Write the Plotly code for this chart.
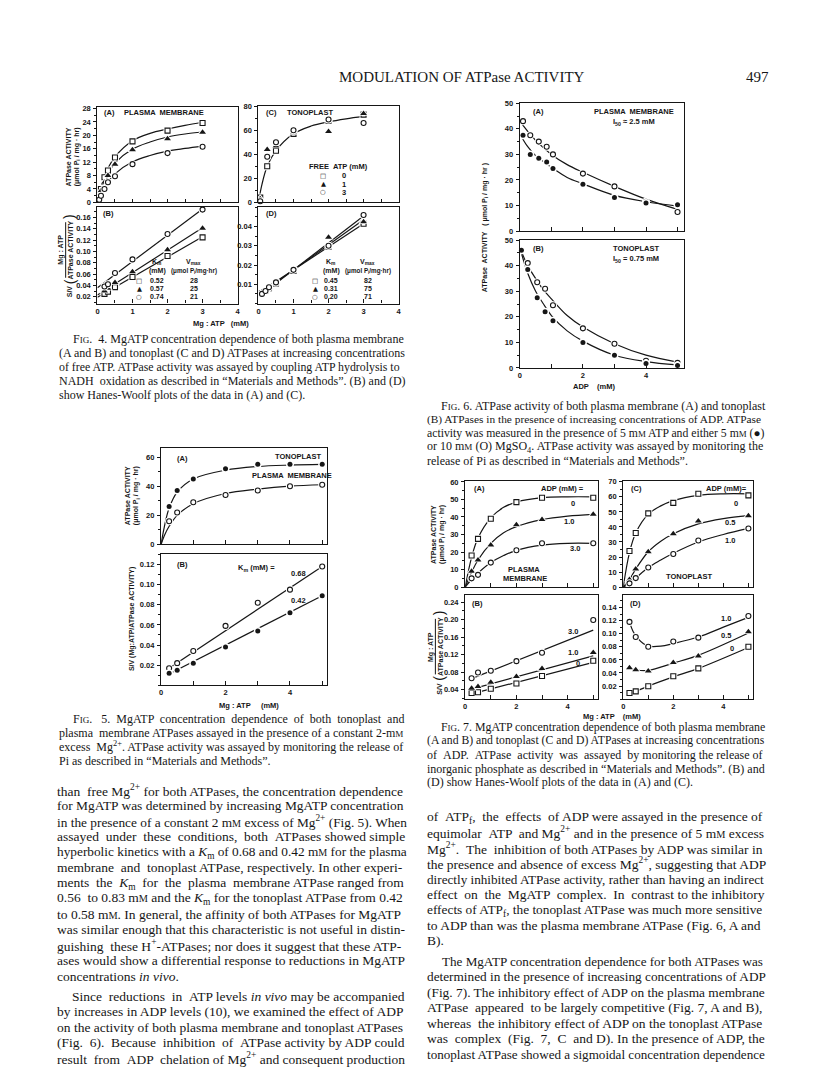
import plotly.graph_objects as go

# ---------------- values ----------------
# Fig. 4 (A) plasma membrane rate vs MgATP, free ATP 0 (sq), 1 (tr), 3 (ci) mM
f4a_x = [0.05, 0.1, 0.2, 0.3, 0.5, 1, 2, 3]
f4a_sq = [1.5, 4, 7.5, 9.5, 13.4, 18.2, 21.4, 23.7]
f4a_tr = [1, 3.5, 6, 8, 11.4, 15.7, 19, 20.9]
f4a_ci = [0.8, 2, 4, 6, 7.8, 11.4, 14.7, 16.6]
f4a_fit_x = [0, 0.1, 0.2, 0.3, 0.5, 1, 1.5, 2, 2.5, 3]
f4a_sq_fit = [0, 4.5, 7.8, 10.2, 13.6, 18.4, 20.6, 21.9, 23, 23.9]
f4a_tr_fit = [0, 3.7, 6.5, 8.6, 11.7, 15.9, 18, 19.5, 20.4, 21]
f4a_ci_fit = [0, 2.5, 4.5, 6.1, 8.5, 12.1, 14, 15.3, 16.1, 16.8]

# Fig. 4 (B) Hanes-Woolf, plasma membrane
f4b_x = [0.2, 0.3, 0.5, 1, 2, 3]
f4b_sq = [0.025, 0.029, 0.037, 0.055, 0.092, 0.125]
f4b_tr = [0.03, 0.035, 0.045, 0.064, 0.103, 0.141]
f4b_ci = [0.038, 0.042, 0.062, 0.086, 0.131, 0.174]
f4b_line_x = [0, 3]
f4b_sq_line = [0.019, 0.126]
f4b_tr_line = [0.023, 0.142]
f4b_ci_line = [0.036, 0.175]
f4b_km = ["0.52", "0.57", "0.74"]
f4b_vmax = ["28", "25", "21"]

# Fig. 4 (C) tonoplast
f4c_x = [0.05, 0.25, 0.5, 1, 2, 3]
f4c_sq = [4, 30, 43, 57, 68, 73]
f4c_tr = [3, 44, 47, 58, 59, 74]
f4c_ci = [1, 38, 50, 60, 69, 66]
f4c_fit_x = [0, 0.1, 0.25, 0.5, 1, 1.5, 2, 2.5, 3]
f4c_fit = [0, 15, 30, 43, 57, 63.5, 67, 69.5, 71.5]
free_atp = ["0", "1", "3"]

# Fig. 4 (D) Hanes-Woolf, tonoplast
f4d_x = [0.1, 0.2, 0.3, 0.5, 1, 2, 3]
f4d_sq = [0.0055, 0.0065, 0.008, 0.0105, 0.017, 0.0295, 0.0415]
f4d_tr = [0.006, 0.007, 0.0085, 0.011, 0.0175, 0.0345, 0.0425]
f4d_ci = [0.005, 0.0065, 0.0085, 0.011, 0.0175, 0.030, 0.046]
f4d_line_x = [0, 3]
f4d_sq_line = [0.0055, 0.0415]
f4d_tr_line = [0.0045, 0.0435]
f4d_ci_line = [0.0035, 0.0455]
f4d_km = ["0.45", "0.31", "0.20"]
f4d_vmax = ["82", "75", "71"]

# Fig. 5 tonoplast (filled) and plasma membrane (open), 2 mM excess Mg
f5_x = [0.25, 0.5, 1, 2, 3, 4, 5]
f5a_tono = [26, 37, 45, 52, 55, 55, 55]
f5a_pm = [16, 22, 29, 34, 37, 40, 41]
f5a_fit_x = [0, 0.1, 0.25, 0.5, 1, 2, 3, 4, 5]
f5a_tono_fit = [0, 12, 25, 36, 45, 51, 53.5, 54.5, 55]
f5a_pm_fit = [0, 6, 12.5, 20, 28, 35, 38, 40, 41]
f5b_pm = [0.017, 0.022, 0.034, 0.059, 0.082, 0.095, 0.118]
f5b_tono = [0.012, 0.015, 0.022, 0.038, 0.054, 0.072, 0.089]
f5b_line_x = [0.2, 5]
f5b_pm_line = [0.016, 0.118]
f5b_tono_line = [0.0105, 0.089]

# Fig. 6 ADP inhibition, 10 mM Mg (open) and 5 mM Mg (filled)
f6a_x = [0.1, 0.33, 0.6, 0.85, 1.05, 2, 3, 4, 5]
f6a_open = [43, 37.5, 35, 33, 30, 22.5, 17.5, 11.5, 7.5]
f6a_fill = [37.5, 30, 28.5, 27, 24.5, 18.3, 13.2, 11, 10.3]
f6a_fit_x = [0, 0.25, 0.5, 1, 1.5, 2, 3, 4, 5]
f6a_open_fit = [43, 39, 35.5, 30, 26, 23, 17.5, 12.5, 8.5]
f6a_fill_fit = [38, 33, 29.5, 25, 21, 18.5, 14, 11.5, 9.8]
f6b_x = [0.05, 0.25, 0.55, 0.8, 1.05, 2, 3, 4, 5]
f6b_open = [46, 41, 33.5, 31, 24.5, 15.5, 9.5, 2.8, 2]
f6b_fill = [46, 38.5, 27.5, 22, 18.5, 10, 5, 1.8, 1]
f6b_fit_x = [0, 0.25, 0.5, 0.75, 1, 1.5, 2, 3, 4, 5]
f6b_open_fit = [47, 40, 35, 30.5, 27, 20.5, 16, 9.5, 5, 2.3]
f6b_fill_fit = [47, 37, 30, 25, 20.5, 14.5, 10.5, 5, 2.5, 1.2]

# Fig. 7 MgATP dependence with ADP
f7_x = [0.25, 0.5, 1, 2, 3, 5]
f7_fit_x = [0, 0.25, 0.5, 1, 1.5, 2, 3, 4, 5]
f7a_sq = [18, 27.5, 39, 48.5, 51, 51]
f7a_tr = [9, 15.5, 24, 35.5, 38.5, 41.5]
f7a_ci = [5, 7, 14, 21, 25, 25]
f7a_sq_fit = [0, 17, 28, 39.5, 45.5, 48.5, 51, 51.5, 51.5]
f7a_tr_fit = [0, 8.5, 15.5, 25, 31, 34.5, 38.5, 40.5, 41.5]
f7a_ci_fit = [0, 4.5, 8, 14, 18, 21, 24, 25, 25]
f7c_sq = [24, 36, 49, 56, 62, 61]
f7c_tr = [5, 12, 23.5, 35.5, 44, 47.5]
f7c_ci = [2.5, 6, 13, 22, 31, 39]
f7c_sq_fit = [0, 23, 36, 48.5, 54, 57.5, 61, 62, 62]
f7c_tr_fit = [0, 5, 12, 23.5, 30.5, 35.5, 42, 45.5, 47.5]
f7c_ci_fit = [0, 2.5, 6, 13, 18, 22.5, 30, 35, 39]
f7b_sq = [0.032, 0.034, 0.042, 0.054, 0.071, 0.106]
f7b_tr = [0.043, 0.047, 0.057, 0.07, 0.088, 0.125]
f7b_ci = [0.066, 0.079, 0.083, 0.105, 0.124, 0.199]
f7b_line_x = [0.25, 5]
f7b_sq_line = [0.03, 0.102]
f7b_tr_line = [0.041, 0.117]
f7b_ci_line = [0.065, 0.176]
f7d_sq = [0.0095, 0.012, 0.0197, 0.035, 0.047, 0.08]
f7d_tr = [0.048, 0.045, 0.043, 0.056, 0.066, 0.103]
f7d_ci = [0.118, 0.095, 0.08, 0.088, 0.094, 0.127]
f7d_ci_fit_x = [0.25, 0.4, 0.6, 0.8, 1, 1.5, 2, 3, 4, 5]
f7d_ci_fit = [0.118, 0.103, 0.092, 0.085, 0.081, 0.081, 0.085, 0.095, 0.11, 0.125]
f7d_tr_fit = [0.048, 0.045, 0.044, 0.055, 0.067, 0.101]
f7d_sq_fit = [0.009, 0.012, 0.02, 0.034, 0.047, 0.079]

# ---------------- text ([[..]] = small capitals) ----------------
header = "MODULATION OF ATPase ACTIVITY"
page_no = "497"
MM = "m[[M]]"
FIG = "F[[IG]]."

cap4 = [
    FIG + " 4. MgATP concentration dependence of both plasma membrane",
    "(A and B) and tonoplast (C and D) ATPases at increasing concentrations",
    "of free ATP. ATPase activity was assayed by coupling ATP hydrolysis to",
    "NADH oxidation as described in \u201cMaterials and Methods\u201d. (B) and (D)",
    "show Hanes-Woolf plots of the data in (A) and (C).",
]
cap5 = [
    FIG + " 5. MgATP concentration dependence of both tonoplast and",
    "plasma membrane ATPases assayed in the presence of a constant 2-" + MM,
    "excess Mg<sup>2+</sup>. ATPase activity was assayed by monitoring the release of",
    "Pi as described in \u201cMaterials and Methods\u201d.",
]
cap6 = [
    FIG + " 6. ATPase activity of both plasma membrane (A) and tonoplast",
    "(B) ATPases in the presence of increasing concentrations of ADP. ATPase",
    "activity was measured in the presence of 5 " + MM + " ATP and either 5 " + MM + " (\u25cf)",
    "or 10 " + MM + " (O) MgSO<sub>4</sub>. ATPase activity was assayed by monitoring the",
    "release of Pi as described in \u201cMaterials and Methods\u201d.",
]
cap7 = [
    FIG + " 7. MgATP concentration dependence of both plasma membrane",
    "(A and B) and tonoplast (C and D) ATPases at increasing concentrations",
    "of ADP. ATPase activity was assayed by monitoring the release of",
    "inorganic phosphate as described in \u201cMaterials and Methods\u201d. (B) and",
    "(D) show Hanes-Woolf plots of the data in (A) and (C).",
]
body_left = [
    "than free Mg<sup>2+</sup> for both ATPases, the concentration dependence",
    "for MgATP was determined by increasing MgATP concentration",
    "in the presence of a constant 2 " + MM + " excess of Mg<sup>2+</sup> (Fig. 5). When",
    "assayed under these conditions, both ATPases showed simple",
    "hyperbolic kinetics with a <i>K</i><sub>m</sub> of 0.68 and 0.42 " + MM + " for the plasma",
    "membrane and tonoplast ATPase, respectively. In other experi-",
    "ments the <i>K</i><sub>m</sub> for the plasma membrane ATPase ranged from",
    "0.56 to 0.83 " + MM + " and the <i>K</i><sub>m</sub> for the tonoplast ATPase from 0.42",
    "to 0.58 " + MM + ". In general, the affinity of both ATPases for MgATP",
    "was similar enough that this characteristic is not useful in distin-",
    "guishing these H<sup>+</sup>-ATPases; nor does it suggest that these ATP-",
    "ases would show a differential response to reductions in MgATP",
    "concentrations <i>in</i> <i>vivo</i>.",
    None,
    "Since reductions in ATP levels <i>in</i> <i>vivo</i> may be accompanied",
    "by increases in ADP levels (10), we examined the effect of ADP",
    "on the activity of both plasma membrane and tonoplast ATPases",
    "(Fig. 6). Because inhibition of ATPase activity by ADP could",
    "result from ADP chelation of Mg<sup>2+</sup> and consequent production",
]
body_right = [
    "of ATP<sub>f</sub>, the effects of ADP were assayed in the presence of",
    "equimolar ATP and Mg<sup>2+</sup> and in the presence of 5 " + MM + " excess",
    "Mg<sup>2+</sup>. The inhibition of both ATPases by ADP was similar in",
    "the presence and absence of excess Mg<sup>2+</sup>, suggesting that ADP",
    "directly inhibited ATPase activity, rather than having an indirect",
    "effect on the MgATP complex. In contrast to the inhibitory",
    "effects of ATP<sub>f</sub>, the tonoplast ATPase was much more sensitive",
    "to ADP than was the plasma membrane ATPase (Fig. 6, A and",
    "B).",
    None,
    "The MgATP concentration dependence for both ATPases was",
    "determined in the presence of increasing concentrations of ADP",
    "(Fig. 7). The inhibitory effect of ADP on the plasma membrane",
    "ATPase appeared to be largely competitive (Fig. 7, A and B),",
    "whereas the inhibitory effect of ADP on the tonoplast ATPase",
    "was complex (Fig. 7, C and D). In the presence of ADP, the",
    "tonoplast ATPase showed a sigmoidal concentration dependence",
]

# ---------------- drawing helpers ----------------
W, H = 816, 1073
SERIF = "Liberation Serif"
SANS = "Liberation Sans"
INK = "#161616"

fig = go.Figure()
layout = {}
ann = []
shapes = []
panels = {}


def panel(key, box, xr, yr, xvals, yvals, xlab=None, xminor=None, yminor=None, ytext=None):
    n = len(panels) + 1
    panels[key] = n
    x0, y0, x1, y1 = box
    s = "" if n == 1 else str(n)
    tf = dict(family=SANS, size=7.5, color=INK, weight="bold")
    xa = dict(domain=[x0 / W, x1 / W], range=xr, anchor="y" + s, showline=True, mirror=True,
              linecolor=INK, linewidth=1.3, ticks="inside", ticklen=4, tickwidth=1, tickcolor=INK,
              tickmode="array", tickvals=xvals, ticktext=xlab or [""] * len(xvals),
              showticklabels=bool(xlab), tickfont=tf, showgrid=False, zeroline=False)
    if xminor:
        xa["minor"] = dict(dtick=xminor, tick0=0, ticks="inside", ticklen=3, tickcolor=INK, showgrid=False)
    ya = dict(domain=[1 - y1 / H, 1 - y0 / H], range=yr, anchor="x" + s, showline=True, mirror=True,
              linecolor=INK, linewidth=1.3, ticks="outside", ticklen=3, tickwidth=1, tickcolor=INK,
              tickmode="array", tickvals=yvals, ticktext=ytext or [f"{v:g}" for v in yvals],
              tickfont=tf, showgrid=False, zeroline=False, ticklabelstandoff=1)
    if yminor:
        ya["minor"] = dict(dtick=yminor, tick0=0, ticks="outside", ticklen=2, tickcolor=INK, showgrid=False)
    layout["xaxis" + s] = xa
    layout["yaxis" + s] = ya


MARK = {
    "sq": dict(symbol="square", size=5, color="white", line=dict(color=INK, width=1.1)),
    "tr": dict(symbol="triangle-up", size=6, color=INK, line=dict(width=0)),
    "ci": dict(symbol="circle", size=5, color="white", line=dict(color=INK, width=1.1)),
    "dot": dict(symbol="circle", size=5, color=INK, line=dict(width=0)),
}


def ax(key):
    n = panels[key]
    s = "" if n == 1 else str(n)
    return dict(xaxis="x" + s, yaxis="y" + s)


def curve(key, x, y, shape="spline"):
    fig.add_trace(go.Scatter(x=x, y=y, mode="lines", line=dict(color=INK, width=1.2, shape=shape),
                             hoverinfo="skip", **ax(key)))


def marks(key, x, y, sym):
    m = MARK[sym]
    fig.add_trace(go.Scatter(x=x, y=y, mode="markers", hoverinfo="skip", cliponaxis=False,
                             marker=dict(symbol=m["symbol"], size=m["size"] + 3, color="white"), **ax(key)))
    fig.add_trace(go.Scatter(x=x, y=y, mode="markers", marker=m, cliponaxis=False, **ax(key)))


def txt(x, y, s, size=7.5, fam=SANS, xa="center", ang=0, bold=True):
    ann.append(dict(x=x / W, y=1 - y / H, xref="paper", yref="paper", text=s, showarrow=False,
                    xanchor=xa, yanchor="middle", textangle=ang,
                    font=dict(family=fam, size=size, color=INK, weight="bold" if bold else "normal")))


# Times-compatible advance widths (1/1000 em), used to justify the text columns
TW = dict(zip("abcdefghijklmnopqrstuvwxyz",
              [444, 500, 444, 500, 444, 333, 500, 500, 278, 278, 500, 278, 778,
               500, 500, 500, 500, 333, 389, 278, 500, 500, 722, 500, 500, 444]))
TW.update(zip("ABCDEFGHIJKLMNOPQRSTUVWXYZ",
              [722, 667, 667, 722, 611, 556, 722, 722, 333, 389, 722, 611, 889,
               722, 722, 556, 722, 667, 556, 611, 722, 722, 944, 722, 722, 611]))
TW.update({c: 500 for c in "0123456789"})
TW.update({" ": 250, ".": 250, ",": 250, ":": 278, ";": 278, "(": 333, ")": 333, "-": 333,
           "+": 564, "=": 564, "/": 278, "\u201c": 444, "\u201d": 444, "\u25cf": 600})
SC = 0.76


def width(s, size):
    w, scale, i = 0.0, 1.0, 0
    while i < len(s):
        if s.startswith("<sup>", i) or s.startswith("<sub>", i):
            scale, i = 0.7, i + 5
        elif s.startswith("</sup>", i) or s.startswith("</sub>", i):
            scale, i = 1.0, i + 6
        elif s.startswith("[[", i):
            scale, i = SC, i + 2
        elif s.startswith("]]", i):
            scale, i = 1.0, i + 2
        elif s[i] == "<":
            i = s.index(">", i) + 1
        else:
            w += TW.get(s[i], 500) * scale
            i += 1
    return w * size / 1000 * 1.035


def para(lines, x, right, y0, step, size, indent_first=0, indent_gap=15, last_final=True):
    y = y0
    first, after_gap = True, False
    for k, line in enumerate(lines):
        if line is None:
            y += 5
            after_gap = True
            continue
        dx = indent_first if first else (indent_gap if after_gap else 0)
        nxt = lines[k + 1] if k + 1 < len(lines) else "END"
        final = nxt is None or (nxt == "END" and last_final)
        words = line.split(" ")
        fs = size
        natural = width(line, fs)
        target = right - x - dx
        if natural > target:
            fs = size * target / natural
            natural = target
        if not final and len(words) > 1:
            gaps = len(words) - 1
            n_extra = max(0, int((target - natural) / (0.25 * fs * 1.035)))
            base, rem = divmod(n_extra, gaps)
            out = words[0]
            for g, wd in enumerate(words[1:]):
                extra = base + (1 if g < rem else 0)
                out += " " + "\u00a0" * extra + wd
            line = out
        line = line.replace("[[", f"<span style='font-size:{fs * SC:.1f}px'>").replace("]]", "</span>")
        txt(x + dx, y, line, size=fs, fam=SERIF, xa="left", bold=False)
        y += step
        first, after_gap = False, False


def ytitle2(x, y, l1, l2):
    txt(x, y, l1, size=7, ang=-90)
    txt(x + 8, y, l2, size=7, ang=-90)


def sv_title(x, yc):
    # S/V ( Mg:ATP / ATPase ACTIVITY ), drawn as a rotated fraction
    txt(x + 4, yc + 42, "S/V", size=7, ang=-90)
    txt(x + 4, yc + 32, "(", size=14, ang=-90, bold=False)
    txt(x + 4, yc - 34, ")", size=14, ang=-90, bold=False)
    txt(x - 5, yc, "Mg : ATP", size=7, ang=-90)
    txt(x + 5, yc, "ATPase ACTIVITY", size=7, ang=-90)
    shapes.append(dict(type="line", xref="paper", yref="paper", x0=x / W, x1=x / W,
                       y0=1 - (yc + 28) / H, y1=1 - (yc - 28) / H, line=dict(color=INK, width=1)))


X04 = ["0", "1", "2", "3", "4"]
X024 = ["0", "", "2", "", "4", ""]

# ---------------- Fig. 4 ----------------
panel("4a", (88, 96, 229, 192), [0, 4], [0, 28.4], [0, 1, 2, 3, 4], [0, 4, 8, 12, 16, 20, 24, 28],
      xminor=0.5, yminor=2)
panel("4b", (88, 197, 229, 294), [0, 4], [0.008, 0.178], [0, 1, 2, 3, 4],
      [0.02, 0.04, 0.06, 0.08, 0.10, 0.12, 0.14, 0.16], xlab=X04, xminor=0.5, yminor=0.01,
      ytext=["0.02", "0.04", "0.06", "0.08", "0.10", "0.12", "0.14", "0.16"])
panel("4c", (250, 95, 391, 192), [0, 4], [0, 80], [0, 1, 2, 3, 4], [0, 20, 40, 60, 80], xminor=0.5, yminor=10)
panel("4d", (250, 197, 391, 294), [0, 4], [0, 0.05], [0, 1, 2, 3, 4], [0.01, 0.02, 0.03, 0.04],
      xlab=X04, xminor=0.5, yminor=0.005)

curve("4a", f4a_fit_x, f4a_sq_fit)
curve("4a", f4a_fit_x, f4a_tr_fit)
curve("4a", f4a_fit_x, f4a_ci_fit)
marks("4a", f4a_x, f4a_sq, "sq")
marks("4a", f4a_x, f4a_tr, "tr")
marks("4a", f4a_x, f4a_ci, "ci")

for ly in (f4b_sq_line, f4b_tr_line, f4b_ci_line):
    curve("4b", f4b_line_x, ly, "linear")
marks("4b", f4b_x, f4b_sq, "sq")
marks("4b", f4b_x, f4b_tr, "tr")
marks("4b", f4b_x, f4b_ci, "ci")

curve("4c", f4c_fit_x, f4c_fit)
marks("4c", f4c_x, f4c_sq, "sq")
marks("4c", f4c_x, f4c_tr, "tr")
marks("4c", f4c_x, f4c_ci, "ci")

for ly in (f4d_sq_line, f4d_tr_line, f4d_ci_line):
    curve("4d", f4d_line_x, ly, "linear")
marks("4d", f4d_x, f4d_sq, "sq")
marks("4d", f4d_x, f4d_tr, "tr")
marks("4d", f4d_x, f4d_ci, "ci")

txt(93, 101, "(A)", xa="left")
txt(113, 101, "PLASMA  MEMBRANE", xa="left")
txt(256, 101, "(C)", xa="left")
txt(277, 101, "TONOPLAST", xa="left")
txt(331, 156, "FREE  ATP (mM)")
glyphs = ["\u25a1", "\u25b2", "\u25cb"]
for i, g in enumerate(glyphs):
    yy = 165 + i * 8.5
    txt(315, yy, g, size=6.5, fam="DejaVu Sans")
    txt(336, yy, free_atp[i])
txt(92, 203, "(B)", xa="left")
txt(256, 203, "(D)", xa="left")
for cx_sym, cx_km, cx_v, kms, vms in ((130, 148, 185, f4b_km, f4b_vmax), (307, 323, 360, f4d_km, f4d_vmax)):
    txt(cx_km, 252, "K<sub>m</sub>", size=7)
    txt(cx_km, 261, "(mM)", size=7)
    txt(cx_v, 252, "V<sub>max</sub>", size=7)
    txt(cx_v, 261, "(\u03bcmol P<sub>i</sub>/mg\u00b7hr)", size=6.3)
    for i, g in enumerate(glyphs):
        yy = 271 + i * 8
        txt(cx_sym, yy, g, size=6.5, fam="DejaVu Sans")
        txt(cx_km, yy, kms[i], size=7)
        txt(cx_v, yy, vms[i], size=7)
ytitle2(59, 146, "ATPase ACTIVITY", "(\u03bcmol P<sub>i</sub> / mg \u00b7 hr)")
sv_title(56, 240)
txt(212, 314, "Mg : ATP   (mM)")

# ---------------- Fig. 5 ----------------
panel("5a", (152, 440, 319, 537), [0, 5.15], [0, 66], [0, 1, 2, 3, 4, 5], [0, 20, 40, 60], yminor=10)
panel("5b", (152, 547, 319, 679), [0, 5.15], [0, 0.13], [0, 1, 2, 3, 4, 5],
      [0.02, 0.04, 0.06, 0.08, 0.10, 0.12], xlab=X024, yminor=0.01,
      ytext=["0.02", "0.04", "0.06", "0.08", "0.10", "0.12"])

curve("5a", f5a_fit_x, f5a_tono_fit)
curve("5a", f5a_fit_x, f5a_pm_fit)
marks("5a", f5_x, f5a_tono, "dot")
marks("5a", f5_x, f5a_pm, "ci")
curve("5b", f5b_line_x, f5b_pm_line, "linear")
curve("5b", f5b_line_x, f5b_tono_line, "linear")
marks("5b", f5_x, f5b_pm, "ci")
marks("5b", f5_x, f5b_tono, "dot")

txt(166, 450, "(A)", xa="left")
txt(290, 448, "TONOPLAST")
txt(284, 467, "PLASMA  MEMBRANE")
txt(166, 557, "(B)", xa="left")
txt(248, 561, "K<sub>m</sub> (mM) =")
txt(290, 566, "0.68")
txt(290, 593, "0.42")
ytitle2(119, 488, "ATPase ACTIVITY", "(\u03bcmol P<sub>i</sub> / mg \u00b7 hr)")
txt(123, 612, "S/V (Mg:ATP/ATPase ACTIVITY)", size=7, ang=-90)
txt(240, 699, "Mg : ATP     (mM)")

# ---------------- Fig. 6 ----------------
panel("6a", (513, 92, 678, 221), [0, 5.2], [0, 50], [0, 1, 2, 3, 4, 5], [0, 10, 20, 30, 40, 50], yminor=5)
panel("6b", (513, 230, 678, 359), [0, 5.2], [0, 50], [0, 1, 2, 3, 4, 5], [0, 10, 20, 30, 40, 50],
      xlab=X024, yminor=5)

curve("6a", f6a_fit_x, f6a_open_fit)
curve("6a", f6a_fit_x, f6a_fill_fit)
marks("6a", f6a_x, f6a_open, "ci")
marks("6a", f6a_x, f6a_fill, "dot")
curve("6b", f6b_fit_x, f6b_open_fit)
curve("6b", f6b_fit_x, f6b_fill_fit)
marks("6b", f6b_x, f6b_open, "ci")
marks("6b", f6b_x, f6b_fill, "dot")

txt(524, 100, "(A)", xa="left")
txt(628, 100, "PLASMA  MEMBRANE")
txt(628, 111, "I<sub>50</sub> \u2248 2.5 mM")
txt(524, 238, "(B)", xa="left")
txt(630, 238, "TONOPLAST")
txt(630, 249, "I<sub>50</sub> = 0.75 mM")
txt(478, 218, "ATPase  ACTIVITY   ( \u03bcmol P<sub>i</sub> / mg \u00b7 hr )", size=7, ang=-90)
txt(588, 378, "ADP    (mM)")

# ---------------- Fig. 7 ----------------
panel("7a", (458, 473, 592, 580), [0, 5.2], [0, 60.5], [0, 1, 2, 3, 4, 5], [0, 10, 20, 30, 40, 50, 60], yminor=5)
panel("7b", (458, 588, 592, 693), [0, 5.2], [0.018, 0.256], [0, 1, 2, 3, 4, 5],
      [0.04, 0.08, 0.12, 0.16, 0.20, 0.24], xlab=X024, yminor=0.02,
      ytext=["0.04", "0.08", "0.12", "0.16", "0.20", "0.24"])
panel("7c", (617, 473, 748, 580), [0, 5.2], [0, 70.5], [0, 1, 2, 3, 4, 5], [0, 10, 20, 30, 40, 50, 60, 70], yminor=5)
panel("7d", (617, 588, 748, 693), [0, 5.2], [0, 0.159], [0, 1, 2, 3, 4, 5],
      [0.02, 0.04, 0.06, 0.08, 0.10, 0.12, 0.14], xlab=X024, yminor=0.01,
      ytext=["0.02", "0.04", "0.06", "0.08", "0.10", "0.12", "0.14"])

for fy_ in (f7a_sq_fit, f7a_tr_fit, f7a_ci_fit):
    curve("7a", f7_fit_x, fy_)
marks("7a", f7_x, f7a_sq, "sq")
marks("7a", f7_x, f7a_tr, "tr")
marks("7a", f7_x, f7a_ci, "ci")
for fy_ in (f7c_sq_fit, f7c_tr_fit, f7c_ci_fit):
    curve("7c", f7_fit_x, fy_)
marks("7c", f7_x, f7c_sq, "sq")
marks("7c", f7_x, f7c_tr, "tr")
marks("7c", f7_x, f7c_ci, "ci")
for ly in (f7b_sq_line, f7b_tr_line, f7b_ci_line):
    curve("7b", f7b_line_x, ly, "linear")
marks("7b", f7_x, f7b_sq, "sq")
marks("7b", f7_x, f7b_tr, "tr")
marks("7b", f7_x, f7b_ci, "ci")
curve("7d", f7d_ci_fit_x, f7d_ci_fit)
curve("7d", f7_x, f7d_tr_fit)
curve("7d", f7_x, f7d_sq_fit)
marks("7d", f7_x, f7d_sq, "sq")
marks("7d", f7_x, f7d_tr, "tr")
marks("7d", f7_x, f7d_ci, "ci")

txt(465, 481, "(A)", xa="left")
txt(556, 481, "ADP (mM) =")
txt(566, 496, "0")
txt(562, 514, "1.0")
txt(568, 541, "3.0")
txt(517, 562, "PLASMA")
txt(518, 571, "MEMBRANE")
txt(623, 481, "(C)", xa="left")
txt(721, 481, "ADP (mM)=")
txt(730, 496, "0")
txt(724, 515, "0.5")
txt(724, 533, "1.0")
txt(684, 569, "TONOPLAST")
txt(463, 597, "(B)", xa="left")
txt(566, 625, "3.0")
txt(566, 646, "1.0")
txt(571, 657, "0")
txt(622, 597, "(D)", xa="left")
txt(720, 612, "1.0")
txt(720, 629, "0.5")
txt(726, 642, "0")
ytitle2(426, 527, "ATPase ACTIVITY", "(\u03bcmol P<sub>i</sub> / mg \u00b7 hr)")
sv_title(428, 640)
txt(606, 710, "Mg : ATP    (mM)")

# ---------------- page text ----------------
txt(455, 66, header, size=15, fam=SERIF, bold=False)
txt(752, 66, page_no, size=15, fam=SERIF, bold=False)
para(cap4, 47, 408, 330, 14, 12, indent_first=14)
para(cap5, 47, 408, 713, 14, 12, indent_first=14)
para(cap6, 418, 770, 397, 14, 12, indent_first=14)
para(cap7, 418, 770, 721, 14, 12, indent_first=14)
para(body_left, 45, 408, 785, 15.6, 13.5, last_final=False)
para(body_right, 418, 770, 812, 15.6, 13.5, last_final=False)

layout.update(width=W, height=H, margin=dict(l=0, r=0, t=0, b=0), autosize=False,
              paper_bgcolor="white", plot_bgcolor="white", showlegend=False,
              annotations=ann, shapes=shapes)
fig.update_layout(**layout)
fig.write_html("out.html")
